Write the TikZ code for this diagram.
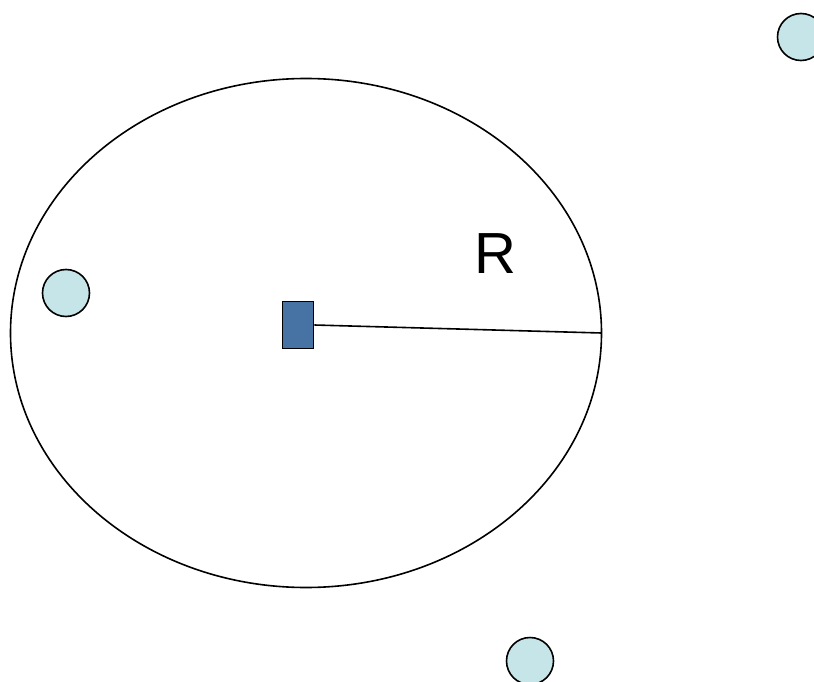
\documentclass[tikz,border=0pt]{standalone}
\usepackage{fontspec}
\setmainfont{Liberation Sans}
\usetikzlibrary{shapes.geometric}
\definecolor{rectblue}{HTML}{4672A4}
\definecolor{ballcyan}{HTML}{C5E5E8}
\begin{document}
\begin{tikzpicture}[x=1pt,y=-1pt,
  ball/.style={circle,draw=black,line width=1.6pt,fill=ballcyan,minimum size=47pt,inner sep=0pt},
  base/.style={rectangle,draw=black,line width=1.6pt,fill=rectblue,minimum width=31pt,minimum height=47pt,inner sep=0pt},
  ring/.style={ellipse,draw=black,line width=1.6pt,minimum width=591pt,minimum height=509pt,inner sep=0pt}]
\useasboundingbox (0,0) rectangle (814,682);
\node[ring] (cell) at (306,333) {};
\node[base] (bs) at (298,325) {};
\node[ball] (u1) at (66,293) {};
\node[ball] (u2) at (801,37) {};
\node[ball] (u3) at (530,661) {};
\coordinate (edge) at (601.5,333);
\draw[line width=1.6pt] (bs.east) -- (edge);
\node[anchor=base,inner sep=0pt,font=\fontsize{58}{62}\selectfont] (lbl) at (495,273) {R};
\end{tikzpicture}
\end{document}
